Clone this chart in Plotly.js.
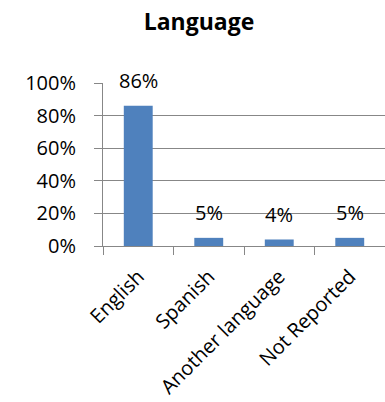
<!DOCTYPE html>
<html>
<head>
<meta charset="utf-8">
<script src="https://cdn.plot.ly/plotly-3.0.1.min.js"></script>
<style>html,body{margin:0;padding:0;background:#fff;}#chart{width:385px;height:402px;}</style>
</head>
<body>
<div id="chart"></div>
<script>
var categories = ["English", "Spanish", "Another language", "Not Reported"];
var values = [0.86, 0.05, 0.04, 0.05];
var labels = ["86%", "5%", "4%", "5%"];
var yTickVals = [0, 0.2, 0.4, 0.6, 0.8, 1.0];
var yTickText = ["0%", "20%", "40%", "60%", "80%", "100%"];

var font = "'Open Sans', 'Liberation Sans', sans-serif";
var grey = "#878787";

var trace = {
  type: "bar",
  x: categories,
  y: values,
  marker: {color: "#4F81BD"},
  hoverinfo: "none"
};

var annotations = categories.map(function (c, i) {
  return {
    x: c, y: values[i], xref: "x", yref: "y",
    text: labels[i], showarrow: false,
    yanchor: "middle", yshift: 25,
    font: {family: font, size: 20, color: "#000"}
  };
});

var layout = {
  width: 385, height: 402,
  margin: {l: 103, r: 0, t: 83, b: 156},
  paper_bgcolor: "#fff", plot_bgcolor: "#fff",
  showlegend: false,
  bargap: 0.59,
  title: {
    text: "<b>Language</b>",
    font: {family: font, size: 23, color: "#000"},
    x: 0.517, xref: "container", xanchor: "center",
    y: 0.945, yref: "container", yanchor: "middle"
  },
  xaxis: {
    type: "category",
    tickangle: -45,
    tickson: "boundaries",
    ticks: "outside", ticklen: 8, tickcolor: grey, tickwidth: 1,
    ticklabelstandoff: 10,
    showline: true, linecolor: grey, linewidth: 1,
    showgrid: false,
    tickfont: {family: font, size: 20, color: "#000"}
  },
  yaxis: {
    range: [0, 1],
    tickvals: yTickVals, ticktext: yTickText,
    ticks: "outside", ticklen: 8, tickcolor: grey, tickwidth: 1,
    ticklabelstandoff: 14,
    showline: true, linecolor: grey, linewidth: 1,
    showgrid: true, gridcolor: grey, gridwidth: 1,
    zeroline: false,
    tickfont: {family: font, size: 20, color: "#000"}
  },
  annotations: annotations
};

Plotly.newPlot("chart", [trace], layout, {displayModeBar: false, staticPlot: true});
</script>
</body>
</html>
